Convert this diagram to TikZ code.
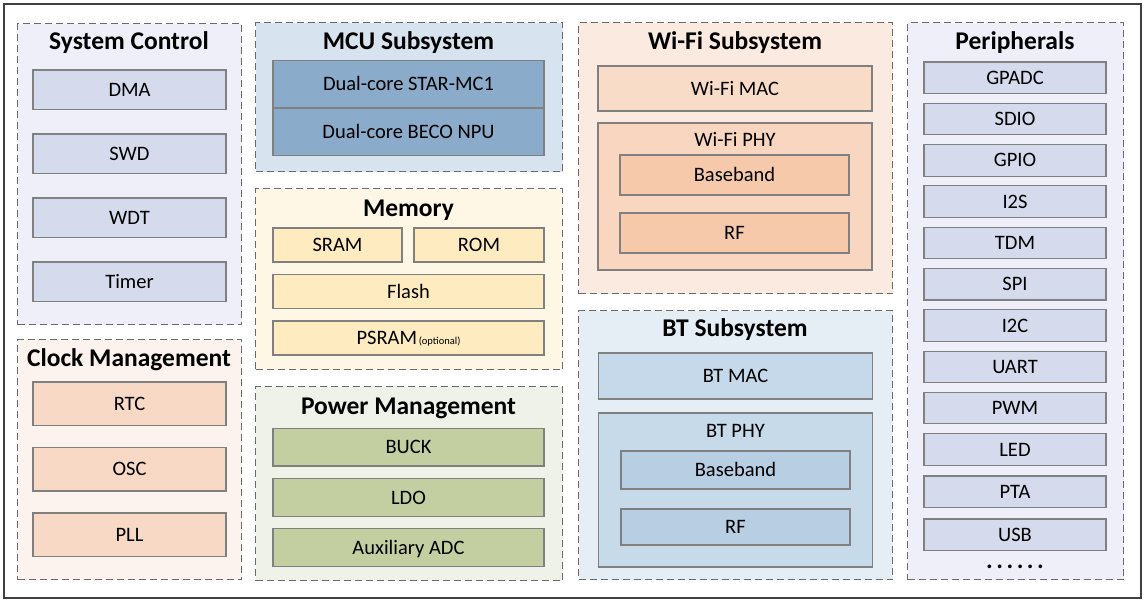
\documentclass[tikz,border=0pt]{standalone}
\usepackage{fontspec}
\setmainfont{Carlito}
\usetikzlibrary{positioning}

\definecolor{lavpanel}{HTML}{EEEFF8}
\definecolor{lavblk}{HTML}{D5DAEC}
\definecolor{mcupanel}{HTML}{D7E3EE}
\definecolor{mcublk}{HTML}{8BABCA}
\definecolor{mempanel}{HTML}{FFF7E5}
\definecolor{memblk}{HTML}{FFEBC0}
\definecolor{pwrpanel}{HTML}{EFF2E9}
\definecolor{pwrblk}{HTML}{C3CFA1}
\definecolor{clkpanel}{HTML}{FCF3EE}
\definecolor{clkblk}{HTML}{F7D9C6}
\definecolor{wifipanel}{HTML}{FBEADF}
\definecolor{wifimac}{HTML}{F9DCC8}
\definecolor{wifiphy}{HTML}{F8D6BF}
\definecolor{wifiblk}{HTML}{F5C9AA}
\definecolor{btpanel}{HTML}{E5EDF5}
\definecolor{btmac}{HTML}{C6D9EA}
\definecolor{btphy}{HTML}{C7DAEA}
\definecolor{btblk}{HTML}{B7CEE3}

\begin{document}
\begin{tikzpicture}[
  x=1pt,y=-1pt,
  font=\fontsize{20.5}{23}\selectfont,
  chipframe/.style={draw=black!75,line width=2.4pt,anchor=north west,inner sep=0pt},
  panel/.style={draw=black!58,dash pattern=on 7pt off 4pt,line width=1.2pt,
    anchor=north west,inner sep=0pt},
  title/.style={font=\fontsize{25.5}{28}\selectfont\bfseries,anchor=base,inner sep=0pt},
  sublabel/.style={anchor=base,inner sep=0pt},
  blk/.style={draw=black!50,line width=1.1pt,anchor=north west,inner sep=0pt,
    outer sep=0pt,text height=13.1pt,text depth=0pt},
  scblk/.style={blk,fill=lavblk,minimum width=193pt,minimum height=39.5pt},
  clkblk/.style={blk,fill=clkblk,minimum width=193pt,minimum height=43.5pt},
  mcublk/.style={blk,fill=mcublk,minimum width=271pt,minimum height=47.5pt},
  memblk/.style={blk,fill=memblk,minimum height=34pt},
  pwrblk/.style={blk,fill=pwrblk,minimum width=271pt,minimum height=37.5pt},
  radioblk/.style={blk,minimum width=229pt,minimum height=39pt},
  perblk/.style={blk,fill=lavblk,minimum width=182pt,minimum height=31.5pt}
]
  \fill[white] (0,0) rectangle (1144,602);
  \useasboundingbox (0,0) rectangle (1144,602);

  \node[chipframe,minimum width=1137pt,minimum height=594pt] (chip) at (3,3) {};

  % System Control
  \node[panel,fill=lavpanel,minimum width=224pt,minimum height=301pt] (sysctl) at (17,23) {};
  \node[title] (sysctl-t) at (129,50) {System Control};
  \node[scblk] (dma) at (33,70) {DMA};
  \node[scblk,below=24.5pt of dma] (swd) {SWD};
  \node[scblk,below=24.5pt of swd] (wdt) {WDT};
  \node[scblk,below=24.5pt of wdt] (timer) {Timer};

  % Clock Management
  \node[panel,fill=clkpanel,minimum width=224pt,minimum height=240pt] (clock) at (17,339) {};
  \node[title] (clock-t) at (129,366.5) {Clock Management};
  \node[clkblk] (rtc) at (33,382) {RTC};
  \node[clkblk,below=22pt of rtc] (osc) {OSC};
  \node[clkblk,below=22pt of osc] (pll) {PLL};

  % MCU Subsystem
  \node[panel,fill=mcupanel,minimum width=307pt,minimum height=149pt] (mcu) at (255,22) {};
  \node[title] (mcu-t) at (408.5,49.5) {MCU Subsystem};
  \node[mcublk] (star) at (273,60.5) {Dual-core STAR-MC1};
  \node[mcublk,below=0pt of star] (npu) {Dual-core BECO NPU};

  % Memory
  \node[panel,fill=mempanel,minimum width=307pt,minimum height=181pt] (memory) at (255,188) {};
  \node[title] (memory-t) at (408.5,216) {Memory};
  \node[memblk,minimum width=129pt] (sram) at (273,228) {SRAM};
  \node[memblk,minimum width=130pt] (rom) at (414,228) {ROM};
  \node[memblk,minimum width=271pt] (flash) at (273,274.5) {Flash};
  \node[memblk,minimum width=271pt] (psram) at (273,321) {PSRAM{\fontsize{10.5}{11}\selectfont\,(optional)}};

  % Power Management
  \node[panel,fill=pwrpanel,minimum width=307pt,minimum height=194pt] (power) at (255,386) {};
  \node[title] (power-t) at (408.5,414) {Power Management};
  \node[pwrblk] (buck) at (273,428.5) {BUCK};
  \node[pwrblk,below=12.7pt of buck] (ldo) {LDO};
  \node[pwrblk,below=12.7pt of ldo] (auxadc) {Auxiliary ADC};

  % Wi-Fi Subsystem
  \node[panel,fill=wifipanel,minimum width=314pt,minimum height=271pt] (wifi) at (578,22) {};
  \node[title] (wifi-t) at (735,50) {Wi-Fi Subsystem};
  \node[blk,fill=wifimac,minimum width=274pt,minimum height=45pt] (wifimac) at (598,66) {Wi-Fi MAC};
  \node[blk,fill=wifiphy,minimum width=274pt,minimum height=147pt] (wifiphy) at (598,123) {};
  \node[sublabel] (wifiphy-t) at (735,146.5) {Wi-Fi PHY};
  \node[radioblk,fill=wifiblk,minimum height=40pt] (wifibb) at (620,155) {Baseband};
  \node[radioblk,fill=wifiblk,minimum height=40pt] (wifirf) at (620,213) {RF};

  % BT Subsystem
  \node[panel,fill=btpanel,minimum width=314pt,minimum height=269pt] (bt) at (578,310) {};
  \node[title] (bt-t) at (735,336) {BT Subsystem};
  \node[blk,fill=btmac,minimum width=274pt,minimum height=46pt] (btmac) at (598.5,353) {BT MAC};
  \node[blk,fill=btphy,minimum width=274pt,minimum height=154pt] (btphy) at (598.5,413) {};
  \node[sublabel] (btphy-t) at (735.5,437.5) {BT PHY};
  \node[radioblk,fill=btblk,minimum height=38pt] (btbb) at (621,451) {Baseband};
  \node[radioblk,fill=btblk,minimum height=36pt] (btrf) at (621,509) {RF};

  % Peripherals
  \node[panel,fill=lavpanel,minimum width=216pt,minimum height=557pt] (periph) at (907,22) {};
  \node[title] (periph-t) at (1015,50) {Peripherals};
  \node[perblk] (gpadc) at (924,62) {GPADC};
  \node[perblk,below=9.8pt of gpadc] (sdio) {SDIO};
  \node[perblk,below=9.8pt of sdio] (gpio) {GPIO};
  \node[perblk,below=9.8pt of gpio] (itwos) {I2S};
  \node[perblk,below=9.8pt of itwos] (tdm) {TDM};
  \node[perblk,below=9.8pt of tdm] (spi) {SPI};
  \node[perblk,below=9.8pt of spi] (itwoc) {I2C};
  \node[perblk,below=9.8pt of itwoc] (uart) {UART};
  \node[perblk,below=9.8pt of uart] (pwm) {PWM};
  \node[perblk,below=9.8pt of pwm] (led) {LED};
  \node[perblk,below=10.8pt of led] (pta) {PTA};
  \node[perblk,below=11.5pt of pta] (usb) {USB};
  \node[anchor=base,inner sep=0pt,font=\fontsize{25}{27}\selectfont\bfseries] (more) at (1015,568)
    {.\hspace{3.5pt}.\hspace{3.5pt}.\hspace{3.5pt}.\hspace{3.5pt}.\hspace{3.5pt}.};
\end{tikzpicture}
\end{document}
